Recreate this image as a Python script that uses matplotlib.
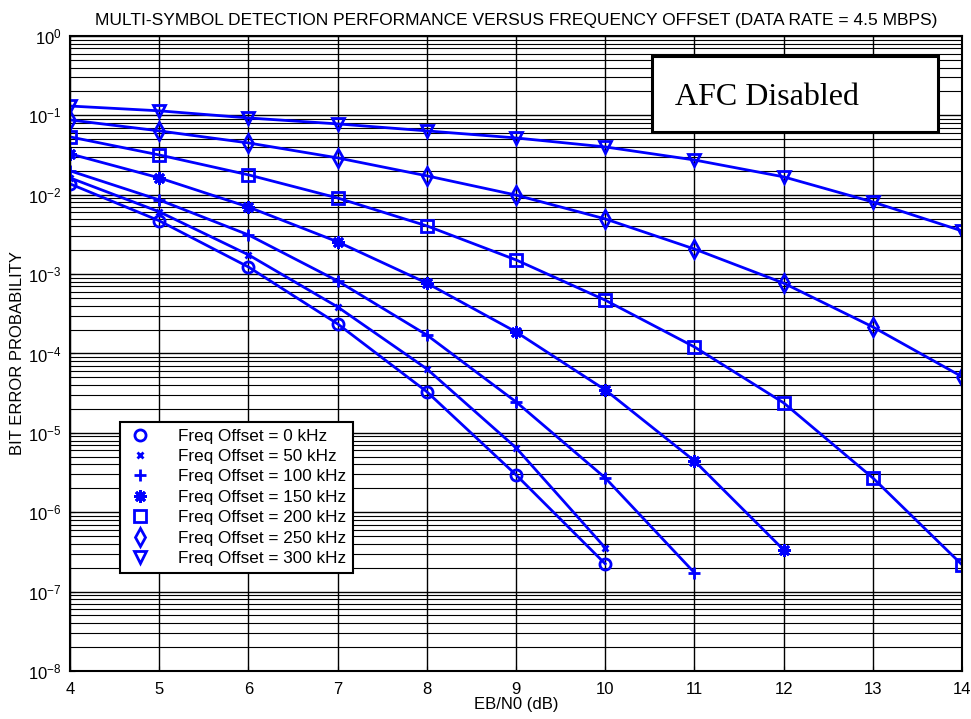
import matplotlib
matplotlib.use("Agg")
from matplotlib import pyplot as plt
from matplotlib.lines import Line2D
from matplotlib.patches import Rectangle
import numpy as np

plt.rcParams['font.family'] = ['Liberation Sans', 'DejaVu Sans']
plt.rcParams['mathtext.default'] = 'regular'

ebn0 = [4, 5, 6, 7, 8, 9, 10, 11, 12, 13, 14]

# bit error probability per frequency offset
ber_0 = [1.37e-2, 4.7e-3, 1.23e-3, 2.36e-4, 3.3e-5, 2.96e-6, 2.24e-7]
ber_50 = [1.63e-2, 6.1e-3, 1.75e-3, 3.86e-4, 6.4e-5, 6.5e-6, 3.56e-7]
ber_100 = [2.0e-2, 8.6e-3, 3.12e-3, 8.2e-4, 1.71e-4, 2.46e-5, 2.71e-6, 1.73e-7]
ber_150 = [3.27e-2, 1.63e-2, 7.0e-3, 2.55e-3, 7.7e-4, 1.87e-4, 3.48e-5, 4.44e-6, 3.36e-7]
ber_200 = [5.35e-2, 3.17e-2, 1.78e-2, 9.1e-3, 4.05e-3, 1.51e-3, 4.7e-4, 1.21e-4,
           2.39e-5, 2.71e-6, 2.18e-7]
ber_250 = [8.75e-2, 6.37e-2, 4.49e-2, 2.91e-2, 1.73e-2, 9.9e-3, 4.96e-3, 2.07e-3,
           7.7e-4, 2.16e-4, 5.1e-5]
ber_300 = [0.131, 0.114, 0.0927, 0.078, 0.0637, 0.0519, 0.040, 0.0274, 0.0168,
           0.0081, 0.0035]

offsets = [0, 50, 100, 150, 200, 250, 300]
series = [ber_0, ber_50, ber_100, ber_150, ber_200, ber_250, ber_300]
markers = ['o', 'x', '+', (8, 2, 0), 's', 'd', 'v']
msizes = [8, 5, 9, 9, 8, 9, 9]

blue = '#0000ff'

fig = plt.figure(figsize=(9.71, 7.19), dpi=100)
ax = fig.add_axes([0.0721, 0.0668, 0.9186, 0.8832])

for ber, mk, ms in zip(series, markers, msizes):
    ax.plot(ebn0[:len(ber)], ber, color=blue, lw=2, marker=mk, ms=ms,
            mfc='none', mec=blue, mew=2)

ax.set_yscale('log')
ax.set_xlim(4, 14)
ax.set_ylim(1e-8, 1)
ax.set_xticks(ebn0)
ax.grid(True, which='major', color='black', lw=1.0)
ax.grid(True, which='minor', axis='y', color='black', lw=0.8)
ax.tick_params(which='both', direction='in', labelsize=12, colors='black')
ax.tick_params(axis='x', pad=8)
ax.tick_params(axis='y', pad=6)
ax.tick_params(which='minor', length=0)
for s in ax.spines.values():
    s.set_linewidth(1.5)
    s.set_color('black')

ax.set_title('MULTI-SYMBOL DETECTION PERFORMANCE VERSUS FREQUENCY OFFSET (DATA RATE = 4.5 MBPS)',
             fontsize=12.5, pad=8)
ax.set_xlabel('EB/N0 (dB)', fontsize=12, labelpad=0)
ax.set_ylabel('BIT ERROR PROBABILITY', fontsize=12, labelpad=2)

handles = [Line2D([], [], ls='none', marker=mk, ms=ms, mfc='none', mec=blue, mew=2)
           for mk, ms in zip(markers, msizes)]
labels = ['Freq Offset = %d kHz' % f for f in offsets]
leg = ax.legend(handles, labels, loc='lower left', bbox_to_anchor=(0.056, 0.154),
                fontsize=12.3, fancybox=False, framealpha=1, edgecolor='black',
                handlelength=1.5, handletextpad=1.5, borderpad=0.4,
                labelspacing=0.32, borderaxespad=0)
leg.get_frame().set_linewidth(1.5)

# annotation box
ax.add_patch(Rectangle((0.6525, 0.849), 0.3205, 0.1195, transform=ax.transAxes,
                       fc='white', ec='black', lw=2.2, zorder=5))
ax.text(0.678, 0.891, 'AFC Disabled', transform=ax.transAxes, fontsize=23,
        family='Liberation Serif', va='baseline', ha='left', zorder=6)

fig.savefig('out.png', dpi=100)
